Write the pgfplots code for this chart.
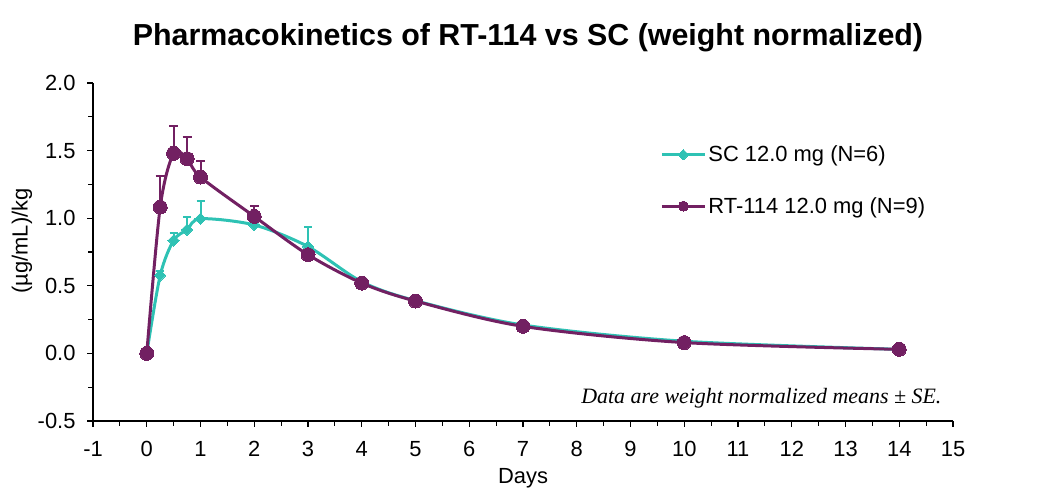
\documentclass[border=0pt]{standalone}
\usepackage{fontspec}
\setmainfont{Liberation Sans}
\newfontfamily\timesfont{Liberation Serif}
\usepackage{pgfplots}
\pgfplotsset{compat=1.18}
\definecolor{scteal}{RGB}{46,194,180}
\definecolor{rtpurple}{RGB}{114,32,98}

\begin{document}
\begin{tikzpicture}
\useasboundingbox (0,0) rectangle (1057bp,493bp);
\begin{axis}[
  at={(93bp,72bp)}, anchor=south west,
  scale only axis, width=860bp, height=338bp,
  xmin=-1, xmax=15, ymin=-0.5, ymax=2,
  axis lines*=left,
  xtick={-1,0,...,15}, ytick={-0.5,0,...,2},
  minor x tick num=1, minor y tick num=1,
  tick align=outside, major tick length=6bp, minor tick length=5bp,
  tick style={black, line width=1.1bp},
  axis line style={black, line width=1.1bp},
  ticklabel style={font=\fontsize{22}{26}\selectfont},
  /pgf/number format/assume math mode=true,
  yticklabel style={xshift=-8bp, /pgf/number format/.cd, fixed, fixed zerofill, precision=1},
  xticklabel style={yshift=-11bp},
  clip=false,
  legend cell align=left,
  legend style={draw=none, fill=none, at={(axis cs:9.55,1.55)}, anchor=north west,
    font=\fontsize{22}{26}\selectfont, row sep=30bp, inner sep=0pt, nodes={inner sep=2bp}},
  legend image code/.code={
    \draw[#1, line width=3.2bp, mark repeat=2, mark phase=2]
      plot coordinates {(0bp,0bp) (21.5bp,0bp) (43bp,0bp)};
  },
]
% SC 12.0 mg
\addplot[smooth, tension=0.5, color=scteal, line width=3bp,
  mark=square*, mark size=4bp, mark options={rotate=45, fill=scteal, draw=scteal, line width=0pt},
  every legend image post/.style={mark size=3.7bp},
  error bars/.cd, y dir=plus, y explicit,
  error bar style={line width=2bp, scteal},
  error mark options={rotate=90, scteal, mark size=4bp, line width=2bp}]
coordinates {
  (0,0) +- (0,0)
  (0.25,0.577) +- (0,0.03)
  (0.5,0.836) +- (0,0.055)
  (0.75,0.915) +- (0,0.093)
  (1,0.996) +- (0,0.13)
  (2,0.95) +- (0,0.04)
  (3,0.79) +- (0,0.144)
  (4,0.53) +- (0,0.03)
  (5,0.39) +- (0,0.01)
  (7,0.21) +- (0,0.01)
  (10,0.09) +- (0,0.005)
  (14,0.03) +- (0,0.005)
};
\addlegendentry{SC 12.0 mg (N=6)}
% RT-114 12.0 mg
\addplot[smooth, tension=0.5, color=rtpurple, line width=3bp,
  mark=*, mark size=7bp, mark options={fill=rtpurple, draw=rtpurple, line width=0pt},
  every legend image post/.style={mark size=5bp},
  error bars/.cd, y dir=plus, y explicit,
  error bar style={line width=2bp, rtpurple},
  error mark options={rotate=90, rtpurple, mark size=4.5bp, line width=2bp}]
coordinates {
  (0,0) +- (0,0)
  (0.25,1.082) +- (0,0.228)
  (0.5,1.48) +- (0,0.205)
  (0.75,1.44) +- (0,0.16)
  (1,1.304) +- (0,0.118)
  (2,1.013) +- (0,0.08)
  (3,0.73) +- (0,0.03)
  (4,0.52) +- (0,0.02)
  (5,0.387) +- (0,0.01)
  (7,0.20) +- (0,0.01)
  (10,0.08) +- (0,0.005)
  (14,0.03) +- (0,0.005)
};
\addlegendentry{RT-114 12.0 mg (N=9)}
\node[anchor=east, font=\timesfont\itshape\fontsize{22}{26}\selectfont]
  at (axis cs:14.85,-0.33) {Data are weight normalized means ± SE.};
\end{axis}
\node[font=\bfseries\fontsize{30.5}{34}\selectfont] at (528bp,455bp)
  {Pharmacokinetics of RT-114 vs SC (weight normalized)};
\node[rotate=90, font=\fontsize{22}{26}\selectfont] at (22bp,252bp) {(µg/mL)/kg};
\node[font=\fontsize{22}{26}\selectfont] at (523bp,15bp) {Days};
\end{tikzpicture}
\end{document}
